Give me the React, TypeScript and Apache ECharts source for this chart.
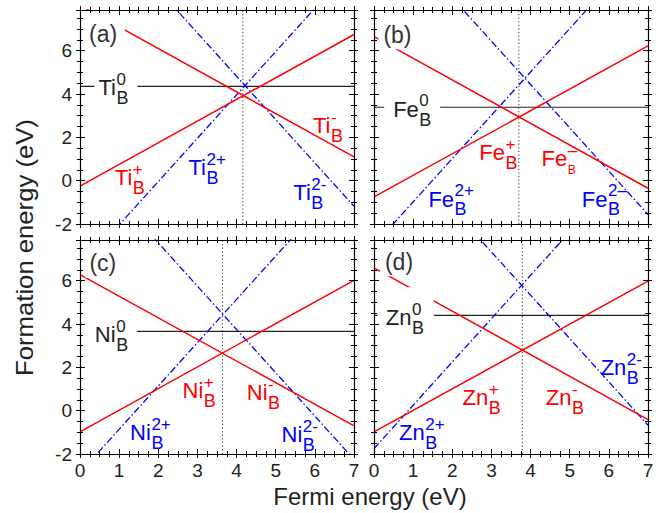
import React, { useEffect, useRef } from 'react';
import * as echarts from 'echarts';

// ---- axes ----
const FERMI_ENDS = [0, 7];
const Y_MIN = -2;
const Y_MAX = 7.88;

// ---- (a) Ti: formation energy at Fermi energy 0 and 7 ----
const tiNeutral = 4.35;
const tiPlus = [-0.25, 6.75];
const tiMinus = [8.1, 1.1];
const ti2Plus = [-4.04, 9.96];
const ti2Minus = [12.82, -1.18];
const tiFermi = 4.16;

// ---- (b) Fe ----
const feNeutral = 3.39;
const fePlus = [-0.75, 6.22];
const feMinus = [6.65, -0.35];
const fe2Plus = [-2.98, 11.02];
const fe2Minus = [12.44, -1.56];
const feFermi = 3.7;

// ---- (c) Ni ----
const niNeutral = 3.66;
const niPlus = [-0.98, 6.02];
const niMinus = [6.28, -0.7];
const ni2Plus = [-2.86, 11.14];
const ni2Minus = [11.75, -2.25];
const niFermi = 3.64;

// ---- (d) Zn ----
const znNeutral = 4.4;
const znPlus = [-0.98, 5.98];
const znMinus = [6.59, -0.41];
const zn2Plus = [-1.75, 12.25];
const zn2Minus = [13.33, -0.67];
const znFermi = 3.79;

const xTickLabels = ['0', '1', '2', '3', '4', '5', '6', '7'];
const yTickLabels = ['-2', '0', '2', '4', '6'];

// label anchors (data coords: left / baseline of main text)
const tiLabelPos = { tag: [0.23, 6.42], n0: [0.47, 3.95], p1: [0.89, -0.2], m1: [5.95, 2.2], p2: [2.77, 0.26], m2: [5.45, -0.89] };
const feLabelPos = { tag: [0.24, 6.34], n0: [0.49, 2.95], p1: [2.69, 0.95], m1: [4.28, 0.65], p2: [1.39, -1.2], m2: [5.31, -1.2] };
const niLabelPos = { tag: [0.24, 6.45], n0: [0.38, 3.17], p1: [2.62, 0.56], m1: [4.26, 0.48], p2: [1.28, -1.37], m2: [5.15, -1.45] };
const znLabelPos = { tag: [0.28, 6.48], n0: [0.3, 3.94], p1: [2.26, 0.25], m1: [4.39, 0.25], p2: [0.64, -1.37], m2: [5.79, 1.63] };

const RED = '#ff0000';
const BLUE = '#0000ff';
const DARK = '#222222';
const FONT = '"Liberation Sans", Arial, sans-serif';

const panels = [
  { el: 'Ti', tag: '(a)', neutral: tiNeutral, plus: tiPlus, minus: tiMinus, plus2: ti2Plus, minus2: ti2Minus, ef: tiFermi, pos: tiLabelPos,
    tagBox: [-3, -30, 36, 7], n0Box: [-4, -28, 39, 14], minusSup: '-', minus2Sup: '2-', smallMinus: false },
  { el: 'Fe', tag: '(b)', neutral: feNeutral, plus: fePlus, minus: feMinus, plus2: fe2Plus, minus2: fe2Minus, ef: feFermi, pos: feLabelPos,
    tagBox: [-5, -28, 32, 6], n0Box: [-9, -28, 47, 14], minusSup: '\u2013', minus2Sup: '2\u2013', smallMinus: true },
  { el: 'Ni', tag: '(c)', neutral: niNeutral, plus: niPlus, minus: niMinus, plus2: ni2Plus, minus2: ni2Minus, ef: niFermi, pos: niLabelPos,
    tagBox: [-4, -26, 32, 7], n0Box: [-14, -26, 42, 14], minusSup: '-', minus2Sup: '2-', smallMinus: false },
  { el: 'Zn', tag: '(d)', neutral: znNeutral, plus: znPlus, minus: znMinus, plus2: zn2Plus, minus2: zn2Minus, ef: znFermi, pos: znLabelPos,
    tagBox: [-5, -26, 32, 6], n0Box: [-8, -38, 48, 14], minusSup: '-', minus2Sup: '2-', smallMinus: false },
];

const gridRects = [
  { left: 80, top: 10, width: 274, height: 214 },
  { left: 374, top: 10, width: 274, height: 214 },
  { left: 80, top: 240, width: 274, height: 214 },
  { left: 374, top: 240, width: 274, height: 214 },
];

export default function App() {
  const ref = useRef<HTMLDivElement>(null);

  useEffect(() => {
    if (!ref.current) return;
    const chart = echarts.init(ref.current, undefined, { renderer: 'svg' });
    const cvs = document.createElement('canvas').getContext('2d') as CanvasRenderingContext2D;
    const measure = (t: string, font: string) => {
      cvs.font = font;
      return cvs.measureText(t).width;
    };

    const xAxes: any[] = [];
    const yAxes: any[] = [];
    const mainIdx: { x: number; y: number }[] = [];

    gridRects.forEach((_, gi) => {
      const showX = gi >= 2;
      const showY = gi % 2 === 0;
      const idx = { x: 0, y: 0 };
      (['bottom', 'top'] as const).forEach((pos) => {
        [
          { interval: 1, inLen: 5, outLen: 4, major: true },
          { interval: 0.25, inLen: 3, outLen: 3, major: false },
        ].forEach((t) => {
          [true, false].forEach((inside) => {
            const isMain = t.major && inside;
            if (isMain && pos === 'bottom') idx.x = xAxes.length;
            xAxes.push({
              type: 'value', gridIndex: gi, position: pos, min: FERMI_ENDS[0], max: FERMI_ENDS[1], interval: t.interval, z: 4,
              axisLine: { show: isMain, onZero: false, lineStyle: { color: '#000', width: 1.2 } },
              axisTick: { show: true, inside, length: inside ? t.inLen : t.outLen, lineStyle: { color: '#000', width: 1 } },
              axisLabel: {
                show: isMain && pos === 'bottom' && showX, fontSize: 19, fontFamily: FONT, color: DARK, margin: 7,
                formatter: (v: number) => (xTickLabels.indexOf(String(v)) >= 0 ? String(v) : ''),
              },
              splitLine: { show: false },
            });
          });
        });
      });
      (['left', 'right'] as const).forEach((pos) => {
        [
          { interval: 2, inLen: 5, outLen: 4, major: true },
          { interval: 0.5, inLen: 3, outLen: 3, major: false },
        ].forEach((t) => {
          [true, false].forEach((inside) => {
            const isMain = t.major && inside;
            if (isMain && pos === 'left') idx.y = yAxes.length;
            yAxes.push({
              type: 'value', gridIndex: gi, position: pos, min: Y_MIN, max: Y_MAX, interval: t.interval, z: 4,
              axisLine: { show: isMain, onZero: false, lineStyle: { color: '#000', width: 1.2 } },
              axisTick: { show: true, inside, length: inside ? t.inLen : t.outLen, lineStyle: { color: '#000', width: 1 } },
              axisLabel: {
                show: isMain && pos === 'left' && showY, fontSize: 19, fontFamily: FONT, color: DARK, margin: 8,
                formatter: (v: number) => (yTickLabels.indexOf(String(v)) >= 0 ? String(v) : ''),
              },
              splitLine: { show: false },
            });
          });
        });
      });
      mainIdx.push(idx);
    });

    const series: any[] = [];
    const lineSeries = (gi: number, data: number[][], color: string, width: number, type: any, z = 2) => ({
      type: 'line', xAxisIndex: mainIdx[gi].x, yAxisIndex: mainIdx[gi].y, data, showSymbol: false, symbol: 'none',
      lineStyle: { color, width, type }, silent: true, clip: true, z, animation: false,
    });
    const dashDot = [7, 2.5, 1.5, 2.5];

    const txt = (text: string, x: number, baseline: number, fs: number, color: string) => ({
      type: 'text', x, y: baseline - 0.3465 * fs,
      style: { text, fill: color, font: `${fs}px ${FONT}`, textAlign: 'left', align: 'left', verticalAlign: 'middle', textVerticalAlign: 'middle' },
    });

    panels.forEach((p, gi) => {
      const ends = (v: number[]) => [[FERMI_ENDS[0], v[0]], [FERMI_ENDS[1], v[1]]];
      series.push(lineSeries(gi, [[FERMI_ENDS[0], p.neutral], [FERMI_ENDS[1], p.neutral]], DARK, 1.2, 'solid'));
      series.push(lineSeries(gi, [[p.ef, Y_MIN], [p.ef, Y_MAX]], '#333', 1, [1.2, 2.4]));
      series.push(lineSeries(gi, ends(p.plus2), BLUE, 1.3, dashDot));
      series.push(lineSeries(gi, ends(p.minus2), BLUE, 1.3, dashDot));
      series.push(lineSeries(gi, ends(p.plus), RED, 1.5, 'solid'));
      series.push(lineSeries(gi, ends(p.minus), RED, 1.5, 'solid'));

      const labels = [
        { pos: p.pos.tag, main: p.tag, color: '#333', box: p.tagBox, tag: true },
        { pos: p.pos.n0, main: p.el, sub: 'B', sup: '0', color: DARK, box: p.n0Box },
        { pos: p.pos.p1, main: p.el, sub: 'B', sup: '+', color: RED },
        { pos: p.pos.m1, main: p.el, sub: 'B', sup: p.minusSup, color: RED, small: p.smallMinus },
        { pos: p.pos.p2, main: p.el, sub: 'B', sup: '2+', color: BLUE },
        { pos: p.pos.m2, main: p.el, sub: 'B', sup: p.minus2Sup, color: BLUE },
      ] as any[];

      series.push({
        type: 'custom', xAxisIndex: mainIdx[gi].x, yAxisIndex: mainIdx[gi].y, z: 3, silent: true, animation: false,
        data: labels.map((l) => l.pos),
        renderItem: (params: any, api: any) => {
          const L = labels[params.dataIndex];
          const pt = api.coord([api.value(0), api.value(1)]);
          const bx = pt[0];
          const by = pt[1];
          const children: any[] = [];
          if (L.box) {
            children.push({
              type: 'rect',
              shape: { x: bx + L.box[0], y: by + L.box[1], width: L.box[2] - L.box[0], height: L.box[3] - L.box[1] },
              style: { fill: '#fff' },
            });
          }
          const mainFs = L.tag ? 23 : 22;
          children.push(txt(L.main, bx, by, mainFs, L.color));
          if (L.sub) {
            const w = measure(L.main, `${mainFs}px ${FONT}`) + 0.5;
            children.push(txt(L.sub, bx + w, by + (L.small ? 8 : 9), L.small ? 12 : 18, L.color));
            children.push(txt(L.sup, bx + w, by - 10, 17, L.color));
          }
          return { type: 'group', children };
        },
      });
    });

    chart.setOption({
      animation: false,
      backgroundColor: '#fff',
      textStyle: { fontFamily: FONT },
      grid: gridRects.map((g) => ({ ...g, containLabel: false })),
      xAxis: xAxes,
      yAxis: yAxes,
      series,
      graphic: [
        {
          type: 'text', x: 370, y: 505 - 0.3465 * 24, z: 10,
          style: { text: 'Fermi energy (eV)', fill: DARK, font: `24px ${FONT}`, textAlign: 'center', align: 'center', verticalAlign: 'middle', textVerticalAlign: 'middle' },
        },
        {
          type: 'text', x: 25, y: 247.5, rotation: Math.PI / 2, scaleX: 1.07, z: 10,
          style: { text: 'Formation energy (eV)', fill: DARK, font: `24px ${FONT}`, textAlign: 'center', align: 'center', verticalAlign: 'middle', textVerticalAlign: 'middle' },
        },
      ],
    });

    return () => chart.dispose();
  }, []);

  return <div ref={ref} style={{ position: 'absolute', left: 0, top: 0, width: 668, height: 513, background: '#fff' }} />;
}
